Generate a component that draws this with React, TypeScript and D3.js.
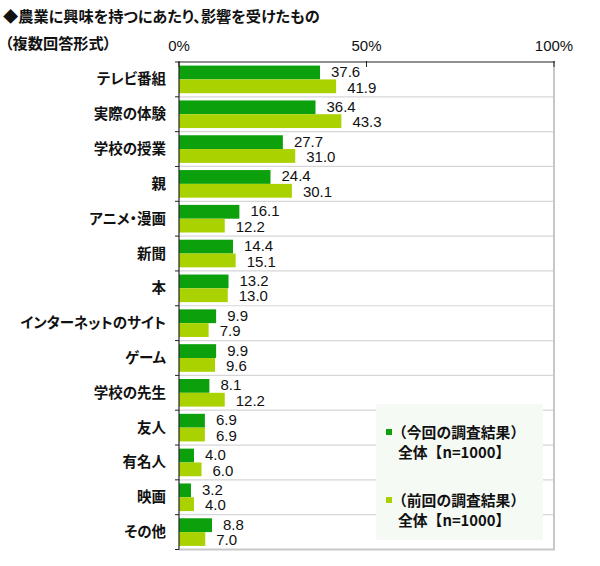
import React from "react";
import * as d3 from "d3";

const categories = [
  "テレビ番組", "実際の体験", "学校の授業", "親", "アニメ・漫画", "新聞", "本",
  "インターネットのサイト", "ゲーム", "学校の先生", "友人", "有名人", "映画", "その他",
];
const currentValues = [37.6, 36.4, 27.7, 24.4, 16.1, 14.4, 13.2, 9.9, 9.9, 8.1, 6.9, 4.0, 3.2, 8.8];
const previousValues = [41.9, 43.3, 31.0, 30.1, 12.2, 15.1, 13.0, 7.9, 9.6, 12.2, 6.9, 6.0, 4.0, 7.0];
const seriesNames = ["current", "previous"];
const xTicks = [0, 50, 100];
const titleLine1 = "◆農業に興味を持つにあたり、影響を受けたもの";
const titleLine2 = "（複数回答形式）";
const legendLines = [
  ["（今回の調査結果）", "全体【n=1000】"],
  ["（前回の調査結果）", "全体【n=1000】"],
];

const COLORS = ["#0ca00c", "#a9d200"];
const JP = "'Noto Sans CJK JP', 'Noto Sans', sans-serif";
const NUM = "'Liberation Sans', Arial, sans-serif";

export default function App() {
  const W = 600, H = 566;
  const left = 179, right = 554, top = 62, bottom = 549.5;
  const x = d3.scaleLinear().domain([0, 100]).range([left, right]);
  const y = d3.scaleBand<string>().domain(categories).range([top, bottom]).paddingInner(0).paddingOuter(0);
  const step = y.step();
  const sub = d3.scaleBand<string>().domain(seriesNames).range([3.6, step - 3.6]).padding(0);
  const bh = sub.bandwidth();
  const series = [currentValues, previousValues];
  const labelShift = [4.5, 6.2];

  return (
    <svg width={W} height={H} style={{ position: "absolute", left: 0, top: 0, background: "#fff" }}>
      <g style={{ fontFeatureSettings: "'palt'" }}>
        <text x={3} y={22} fontFamily={JP} fontWeight="bold" fontSize={15.2} fill="#111">{titleLine1}</text>
        <text x={5} y={49} fontFamily={JP} fontWeight="bold" fontSize={15.2} fill="#111">{titleLine2}</text>
      </g>

      {xTicks.map((t) => (
        <text key={t} x={x(t)} y={51} textAnchor="middle" fontFamily={NUM} fontSize={15} fill="#111">{t}%</text>
      ))}

      {/* gridlines */}
      {categories.slice(1).map((c) => (
        <line key={"g" + c} x1={left} x2={right} y1={y(c)!} y2={y(c)!} stroke="#d6d6d6" strokeWidth={1.2} />
      ))}
      <line x1={right} x2={right} y1={top} y2={bottom} stroke="#c8c8c8" strokeWidth={2} />
      <line x1={left} x2={right + 1} y1={bottom} y2={bottom} stroke="#c8c8c8" strokeWidth={2} />

      {/* legend background */}
      <rect x={376} y={404} width={167} height={136} fill="#f6faf5" />

      {/* bars */}
      {categories.map((c, i) => (
        <g key={c}>
          {series.map((vals, si) => (
            <rect key={si} x={x(0)} y={y(c)! + sub(seriesNames[si])!} width={x(vals[i]) - x(0)} height={bh} fill={COLORS[si]} />
          ))}
        </g>
      ))}

      {/* frame top & left axis */}
      <line x1={left} x2={right + 1} y1={top} y2={top} stroke="#222" strokeWidth={1.2} />
      {xTicks.map((t) => (
        <line key={"xt" + t} x1={x(t)} x2={x(t)} y1={top - 1} y2={top + 5} stroke="#222" strokeWidth={1} />
      ))}
      <line x1={left} x2={left} y1={top} y2={bottom} stroke="#222" strokeWidth={1.2} />
      {categories.map((c) => (
        <line key={"t" + c} x1={left - 4} x2={left} y1={y(c)! + step} y2={y(c)! + step} stroke="#222" strokeWidth={1} />
      ))}
      <line x1={left - 4} x2={left} y1={top} y2={top} stroke="#222" strokeWidth={1} />

      {/* value labels */}
      {categories.map((c, i) => (
        <g key={"v" + c}>
          {series.map((vals, si) => (
            <text key={si} x={x(vals[i]) + 11} y={y(c)! + sub(seriesNames[si])! + bh / 2 + labelShift[si]}
              fontFamily={NUM} fontSize={15} fill="#111">{vals[i].toFixed(1)}</text>
          ))}
        </g>
      ))}

      {/* category labels */}
      <g style={{ fontFeatureSettings: "'palt'" }}>
        {categories.map((c) => (
          <text key={"c" + c} x={166} y={y(c)! + step / 2 + 5} textAnchor="end" fontFamily={JP} fontWeight="bold" fontSize={14.5} fill="#111">{c}</text>
        ))}
      </g>

      {/* legend */}
      <g>
        {legendLines.map((lines, i) => {
          const cy = 432 + i * 68;
          return (
            <g key={"l" + i}>
              <rect x={386} y={cy - 3} width={6} height={6} fill={COLORS[i]} />
              <text x={392} y={cy + 5.5} fontFamily={JP} fontWeight="bold" fontSize={14.8} fill="#111">{lines[0]}</text>
              <text x={398} y={cy + 25.5} fontFamily={JP} fontWeight="bold" fontSize={14.8} fill="#111">{lines[1]}</text>
            </g>
          );
        })}
      </g>
    </svg>
  );
}
